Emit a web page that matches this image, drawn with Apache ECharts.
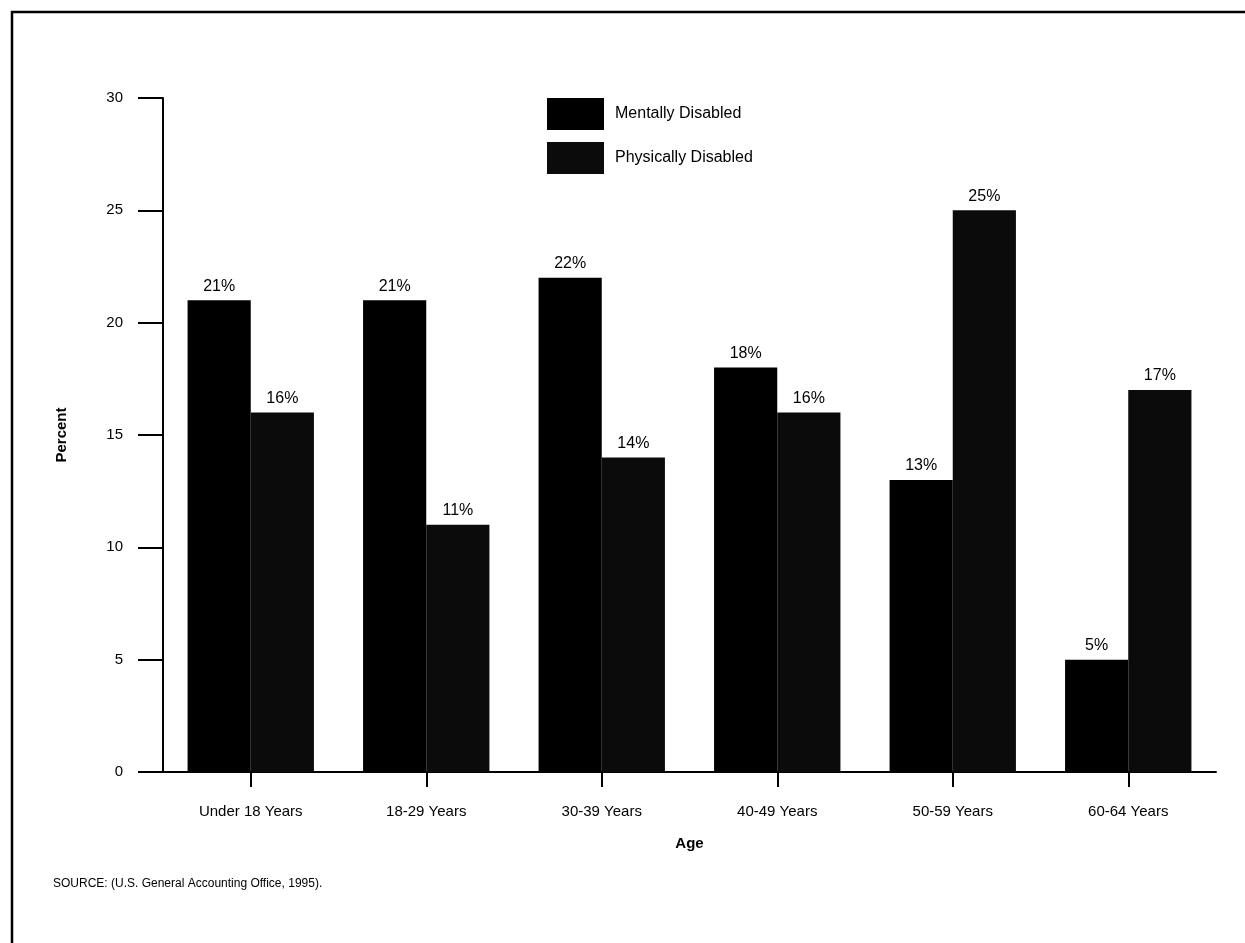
<!DOCTYPE html>
<html>
<head>
<meta charset="utf-8">
<script src="https://cdn.jsdelivr.net/npm/echarts@6/dist/echarts.min.js"></script>
<style>
html,body{margin:0;padding:0;background:#fff;}
#chart{width:1245px;height:943px;}
</style>
</head>
<body>
<div id="chart"></div>
<script>
var categories = ['Under 18 Years', '18-29 Years', '30-39 Years', '40-49 Years', '50-59 Years', '60-64 Years'];
var mentallyDisabled = [21, 21, 22, 18, 13, 5];
var physicallyDisabled = [16, 11, 14, 16, 25, 17];
var yTicks = [0, 5, 10, 15, 20, 25, 30];

var FONT = 'Liberation Sans, Arial, Helvetica, sans-serif';
var chart = echarts.init(document.getElementById('chart'));
chart.setOption({
  animation: false,
  backgroundColor: '#fff',
  textStyle: { fontFamily: FONT, color: '#000' },
  graphic: [
    { type: 'polyline', shape: { points: [[12, 943], [12, 12], [1245, 12]] }, style: { stroke: '#000', lineWidth: 2.5, fill: null } },
    { type: 'text', left: 53, top: 878, style: { text: 'SOURCE: (U.S. General Accounting Office, 1995).', font: '12px ' + FONT, fill: '#000' } }
  ],
  legend: {
    orient: 'vertical',
    left: 542,
    top: 93,
    itemWidth: 57,
    itemHeight: 32,
    itemGap: 12,
    icon: 'rect',
    textStyle: { fontSize: 16, color: '#000', padding: [0, 0, 0, 6] },
    data: ['Mentally Disabled', 'Physically Disabled']
  },
  grid: { left: 163, right: 29, top: 98, bottom: 171 },
  xAxis: {
    type: 'category',
    data: categories,
    name: 'Age',
    nameLocation: 'middle',
    nameGap: 64,
    nameTextStyle: { fontSize: 15, fontWeight: 'bold', color: '#000' },
    axisLine: { lineStyle: { color: '#000', width: 2 } },
    axisTick: { show: true, length: 15, alignWithLabel: true, lineStyle: { color: '#000', width: 2 } },
    axisLabel: { fontSize: 15, color: '#000', margin: 32 }
  },
  yAxis: {
    type: 'value',
    min: 0,
    max: 30,
    interval: 5,
    name: 'Percent',
    nameLocation: 'middle',
    nameGap: 94,
    nameTextStyle: { fontSize: 15, fontWeight: 'bold', color: '#000' },
    axisLine: { show: true, lineStyle: { color: '#000', width: 2 } },
    axisTick: { show: true, length: 25, lineStyle: { color: '#000', width: 2 } },
    axisLabel: { fontSize: 15, color: '#000', margin: 40, formatter: function (v) { return yTicks.indexOf(v) >= 0 ? String(v) : ''; } },
    splitLine: { show: false }
  },
  series: [
    {
      name: 'Mentally Disabled',
      type: 'bar',
      data: mentallyDisabled,
      barWidth: '36%',
      barGap: '0%',
      itemStyle: { color: '#000' },
      label: { show: true, position: 'top', distance: 6, formatter: '{c}%', fontSize: 16, color: '#000' }
    },
    {
      name: 'Physically Disabled',
      type: 'bar',
      data: physicallyDisabled,
      barWidth: '36%',
      itemStyle: { color: '#0b0b0b' },
      label: { show: true, position: 'top', distance: 6, formatter: '{c}%', fontSize: 16, color: '#000' }
    }
  ]
});
</script>
</body>
</html>
